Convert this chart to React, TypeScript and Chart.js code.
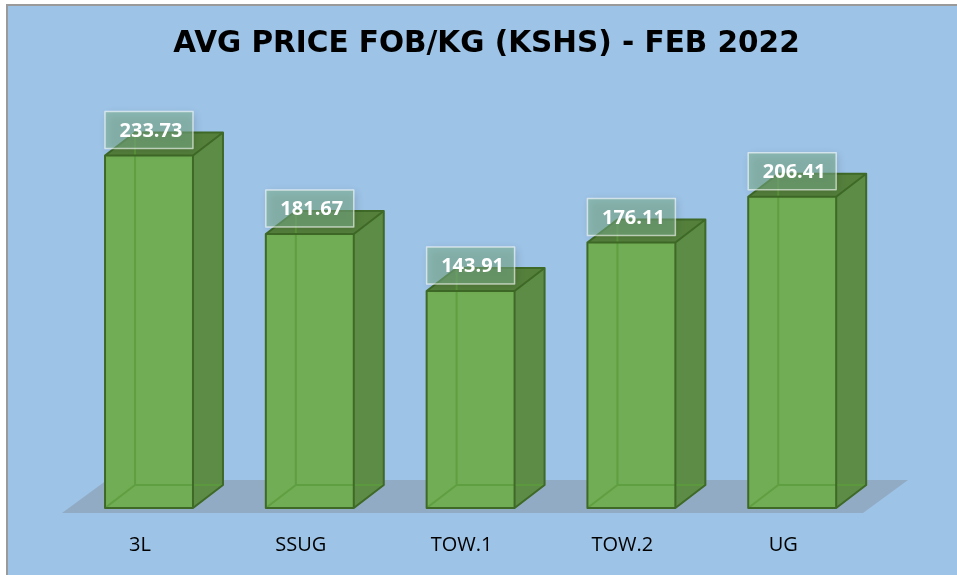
import React, { useEffect, useRef } from "react";
import { Chart, registerables } from "chart.js";

Chart.register(...registerables);

const categories = ["3L", "SSUG", "TOW.1", "TOW.2", "UG"];
const prices = [233.73, 181.67, 143.91, 176.11, 206.41];
const yMin = 0;
const yMax = 250;
const titleText = "AVG PRICE FOB/KG (KSHS) - FEB 2022";

const DX = 30;
const DY = 23;

const bars3d = {
  id: "bars3d",
  afterDatasetsDraw(chart: any) {
    const ctx = chart.ctx;
    const area = chart.chartArea;
    const meta = chart.getDatasetMeta(0);
    const base = chart.scales.y.getPixelForValue(0);
    ctx.save();
    // floor
    const fl = area.left - 6.6;
    const fr = area.right - 9.6;
    const fy = base + 5;
    ctx.fillStyle = "#92abc5";
    ctx.beginPath();
    ctx.moveTo(fl, fy);
    ctx.lineTo(fr, fy);
    ctx.lineTo(fr + 45, fy - 33);
    ctx.lineTo(fl + 45, fy - 33);
    ctx.closePath();
    ctx.fill();

    meta.data.forEach((bar: any) => {
      const x0 = bar.x - bar.width / 2;
      const x1 = bar.x + bar.width / 2;
      const yt = bar.y;
      const yb = base;
      ctx.lineJoin = "round";
      // side face
      ctx.fillStyle = "rgb(92,140,70)";
      ctx.beginPath();
      ctx.moveTo(x1, yt);
      ctx.lineTo(x1 + DX, yt - DY);
      ctx.lineTo(x1 + DX, yb - DY);
      ctx.lineTo(x1, yb);
      ctx.closePath();
      ctx.fill();
      // top face
      ctx.fillStyle = "rgb(84,128,60)";
      ctx.beginPath();
      ctx.moveTo(x0, yt);
      ctx.lineTo(x0 + DX, yt - DY);
      ctx.lineTo(x1 + DX, yt - DY);
      ctx.lineTo(x1, yt);
      ctx.closePath();
      ctx.fill();
      // front face
      ctx.fillStyle = "rgb(112,173,84)";
      ctx.fillRect(x0, yt, x1 - x0, yb - yt);
      // hidden edges seen through
      ctx.strokeStyle = "rgba(92,155,60,0.8)";
      ctx.lineWidth = 2;
      ctx.beginPath();
      ctx.moveTo(x0 + DX, yt - DY);
      ctx.lineTo(x0 + DX, yb - DY);
      ctx.lineTo(x1 + DX, yb - DY);
      ctx.moveTo(x0 + DX, yb - DY);
      ctx.lineTo(x0, yb);
      ctx.stroke();
      // outline
      ctx.strokeStyle = "rgb(62,105,38)";
      ctx.lineWidth = 2;
      ctx.beginPath();
      ctx.rect(x0, yt, x1 - x0, yb - yt);
      ctx.moveTo(x0, yt);
      ctx.lineTo(x0 + DX, yt - DY);
      ctx.lineTo(x1 + DX, yt - DY);
      ctx.lineTo(x1, yt);
      ctx.moveTo(x1 + DX, yt - DY);
      ctx.lineTo(x1 + DX, yb - DY);
      ctx.lineTo(x1, yb);
      ctx.stroke();
    });

    // labels
    meta.data.forEach((bar: any, i: number) => {
      const x0 = bar.x - bar.width / 2;
      const w = bar.width;
      const top = bar.y - 44;
      const h = 37;
      ctx.save();
      ctx.shadowColor = "rgba(0,0,0,0.25)";
      ctx.shadowBlur = 8;
      ctx.shadowOffsetX = 2;
      ctx.shadowOffsetY = 2;
      ctx.fillStyle = "rgba(125,177,140,0.55)";
      ctx.fillRect(x0, top, w, h);
      ctx.restore();
      ctx.strokeStyle = "rgba(255,255,255,0.6)";
      ctx.lineWidth = 1.5;
      ctx.strokeRect(x0, top, w, h);
      ctx.fillStyle = "#ffffff";
      ctx.font = "bold 20px 'Open Sans'";
      ctx.textAlign = "center";
      ctx.textBaseline = "middle";
      ctx.fillText(prices[i].toFixed(2), bar.x + 2, top + h / 2 + 1);
    });
    ctx.restore();
  },
};

export default function App() {
  const ref = useRef<HTMLCanvasElement | null>(null);
  useEffect(() => {
    document.body.style.margin = "0";
    document.body.style.overflow = "hidden";
    if (!ref.current) return;
    const chart = new Chart(ref.current, {
      type: "bar",
      data: {
        labels: categories,
        datasets: [
          {
            data: prices,
            backgroundColor: "rgba(0,0,0,0)",
            borderWidth: 0,
            barPercentage: 0.547,
            categoryPercentage: 1,
          },
        ],
      },
      options: {
        animation: false,
        responsive: false,
        events: [],
        layout: { padding: { left: 8, right: 0, top: 0, bottom: 0 } },
        plugins: {
          legend: { display: false },
          tooltip: { enabled: false },
          title: {
            display: true,
            text: titleText,
            color: "#000000",
            font: { family: "'DejaVu Sans'", size: 29.5, weight: "bold" },
            padding: { top: 20.5, bottom: 69.1 },
          },
        },
        scales: {
          x: {
            grid: { display: false, drawTicks: false },
            border: { display: false },
            ticks: {
              color: "#000000",
              font: { family: "'Open Sans'", size: 20 },
              padding: 25,
              labelOffset: -9,
            },
            afterFit: (s: any) => {
              s.height = 67;
            },
          },
          y: {
            min: yMin,
            max: yMax,
            grid: { display: false },
            border: { display: false },
            ticks: { display: false },
            afterFit: (s: any) => {
              s.width = 52.6;
            },
          },
          y2: {
            position: "right",
            grid: { display: false },
            border: { display: false },
            ticks: { display: false },
            afterFit: (s: any) => {
              s.width = 84.4;
            },
          },
        },
      },
      plugins: [bars3d],
    } as any);
    return () => chart.destroy();
  }, []);
  return (
    <div
      style={{
        position: "absolute",
        left: 6,
        top: 4,
        width: 970,
        height: 590,
        background: "#9dc3e6",
        borderLeft: "2px solid #9a9a9a",
        borderTop: "2px solid #9a9a9a",
      }}
    >
      <canvas ref={ref} width={949} height={569} style={{ display: "block" }} />
    </div>
  );
}
